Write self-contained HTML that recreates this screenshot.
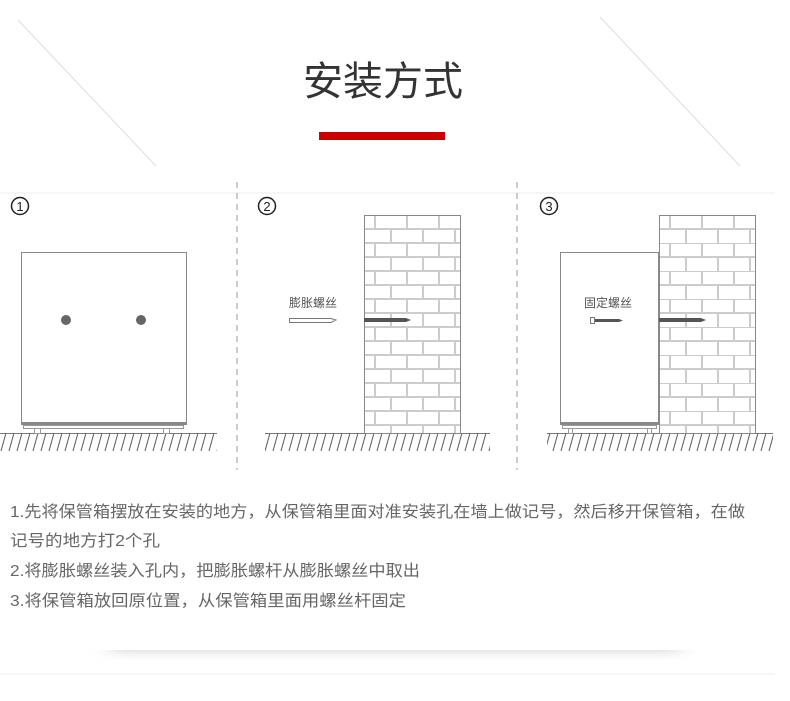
<!DOCTYPE html>
<html><head><meta charset="utf-8"><style>
html,body{margin:0;padding:0;background:#fff;width:790px;height:701px;overflow:hidden}
svg{display:block}
</style></head><body>
<svg width="790" height="701" viewBox="0 0 790 701" xmlns="http://www.w3.org/2000/svg" font-family="Liberation Sans, Noto Sans CJK SC, sans-serif">
<defs>
<pattern id="brick" x="364" y="215" width="32" height="28" patternUnits="userSpaceOnUse">
<rect width="32" height="28" fill="#fff"/>
<line x1="0" y1="14" x2="32" y2="14" stroke="#ccc" stroke-width="2"/>
<line x1="0" y1="28" x2="32" y2="28" stroke="#ccc" stroke-width="2"/>
<line x1="0" y1="0" x2="32" y2="0" stroke="#ccc" stroke-width="2"/>
<line x1="11" y1="0" x2="11" y2="14" stroke="#ccc" stroke-width="2"/>
<line x1="27" y1="14" x2="27" y2="28" stroke="#ccc" stroke-width="2"/>
</pattern>
<pattern id="brick3" x="659" y="215" width="32" height="28" patternUnits="userSpaceOnUse">
<rect width="32" height="28" fill="#fff"/>
<line x1="0" y1="14" x2="32" y2="14" stroke="#ccc" stroke-width="2"/>
<line x1="0" y1="0" x2="32" y2="0" stroke="#ccc" stroke-width="2"/>
<line x1="11" y1="0" x2="11" y2="14" stroke="#ccc" stroke-width="2"/>
<line x1="27" y1="14" x2="27" y2="28" stroke="#ccc" stroke-width="2"/>
</pattern>
<pattern id="hatch" x="0" y="433" width="8" height="18" patternUnits="userSpaceOnUse">
<line x1="6" y1="0" x2="1" y2="18" stroke="#666" stroke-width="1.1"/>
</pattern>
<filter id="blur" x="-20%" y="-300%" width="140%" height="700%"><feGaussianBlur stdDeviation="10,5"/></filter>
</defs>
<!-- header -->
<line x1="18" y1="20" x2="156" y2="166" stroke="#ddd"/>
<line x1="600" y1="17" x2="740" y2="166" stroke="#ddd"/>
<text x="383" y="95" font-size="40" fill="#333" text-anchor="middle">安装方式</text>
<rect x="319" y="132" width="126" height="8" fill="#cc0000"/>
<line x1="0" y1="193" x2="775" y2="193" stroke="#eee"/>
<!-- dashed dividers -->
<line x1="237" y1="182" x2="237" y2="470" stroke="#999" stroke-dasharray="6,5"/>
<line x1="517" y1="182" x2="517" y2="470" stroke="#999" stroke-dasharray="6,5"/>
<!-- numbers -->
<g fill="#222" text-anchor="middle" font-size="13">
<circle cx="20" cy="206" r="8.5" fill="none" stroke="#222" stroke-width="1.5"/><text x="20" y="211">1</text>
<circle cx="267" cy="206" r="8.5" fill="none" stroke="#222" stroke-width="1.5"/><text x="267" y="211">2</text>
<circle cx="549" cy="206" r="8.5" fill="none" stroke="#222" stroke-width="1.5"/><text x="549" y="211">3</text>
</g>
<!-- grounds -->
<rect x="0" y="433" width="217" height="18" fill="url(#hatch)"/>
<line x1="0" y1="433.5" x2="217" y2="433.5" stroke="#777"/>
<rect x="265" y="433" width="225" height="18" fill="url(#hatch)"/>
<line x1="265" y1="433.5" x2="490" y2="433.5" stroke="#777"/>
<rect x="547" y="433" width="226" height="18" fill="url(#hatch)"/>
<line x1="547" y1="433.5" x2="773" y2="433.5" stroke="#777"/>
<!-- cabinet 1 -->
<rect x="21.5" y="252.5" width="165" height="170" fill="#fff" stroke="#888"/>
<rect x="21" y="422" width="166" height="3" fill="#888"/>
<rect x="23.5" y="425.5" width="160" height="3" fill="#fff" stroke="#999"/>
<rect x="34.5" y="428.5" width="6" height="5" fill="#fff" stroke="#999"/>
<rect x="163.5" y="428.5" width="6" height="5" fill="#fff" stroke="#999"/>
<circle cx="66" cy="320" r="5" fill="#666"/>
<circle cx="141" cy="320" r="5" fill="#666"/>
<!-- wall 2 -->
<rect x="364.5" y="215.5" width="96" height="218" fill="url(#brick)" stroke="#888"/>
<rect x="364" y="318" width="42" height="4" fill="#555"/>
<polygon points="406,318 411,320 406,322" fill="#555"/>
<text x="313" y="307" font-size="12" fill="#555" text-anchor="middle">膨胀螺丝</text>
<path d="M289.5,318.5 H331 L336,320 L331,322.5 H289.5 Z" fill="#fff" stroke="#777"/>
<!-- wall 3 -->
<rect x="659.5" y="215.5" width="96" height="218" fill="url(#brick3)" stroke="#888"/>
<rect x="659" y="318" width="42" height="4" fill="#555"/>
<polygon points="701,318 706,320 701,322" fill="#555"/>
<!-- cabinet 3 -->
<rect x="560.5" y="252.5" width="98" height="170" fill="#fff" stroke="#888"/>
<rect x="560" y="422" width="99" height="3" fill="#888"/>
<rect x="562.5" y="425.5" width="94" height="3" fill="#fff" stroke="#999"/>
<rect x="568.5" y="428.5" width="4" height="5" fill="#fff" stroke="#999"/>
<rect x="647.5" y="428.5" width="4" height="5" fill="#fff" stroke="#999"/>
<text x="608" y="307" font-size="12" fill="#555" text-anchor="middle">固定螺丝</text>
<rect x="590.5" y="317.5" width="4" height="6" fill="#fff" stroke="#777"/>
<rect x="595" y="319" width="24" height="3" fill="#555"/>
<polygon points="619,319 623,320.5 619,322" fill="#555"/>
<!-- text -->
<g font-size="16" fill="#666">
<text x="10" y="517" textLength="735" lengthAdjust="spacingAndGlyphs">1.先将保管箱摆放在安装的地方，从保管箱里面对准安装孔在墙上做记号，然后移开保管箱，在做</text>
<text x="10" y="546" textLength="150" lengthAdjust="spacingAndGlyphs">记号的地方打2个孔</text>
<text x="10" y="576" textLength="410" lengthAdjust="spacingAndGlyphs">2.将膨胀螺丝装入孔内，把膨胀螺杆从膨胀螺丝中取出</text>
<text x="10" y="606" textLength="396" lengthAdjust="spacingAndGlyphs">3.将保管箱放回原位置，从保管箱里面用螺丝杆固定</text>
</g>
<rect x="110" y="645" width="570" height="6" fill="#c8c8c8" filter="url(#blur)"/>
<rect x="0" y="625" width="790" height="25" fill="#fff"/>
<line x1="0" y1="674" x2="775" y2="674" stroke="#eee"/>
</svg>
</body></html>
